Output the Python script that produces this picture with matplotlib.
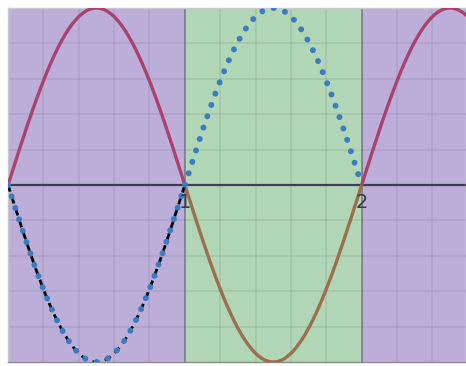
import numpy as np
import matplotlib.pyplot as plt

# function y = amp * sin(pi * x / half_period), shown over [x_min, x_max]
amp = 1.0
half_period = 1.0
x_min, x_max = 0.0, 2.59
y_min, y_max = -1.0, 1.0

# shaded bands: (start, end, colour)
bands = [(0.0, 1.0, '#bcaed9'), (1.0, 2.0, '#b1d6b5'), (2.0, 2.6, '#bcaed9')]
boundaries = [1.0, 2.0]
tick_labels = ['1', '2']

# ranges for each trace
solid_red_ranges = [(0.0, 1.0), (2.0, 2.6)]
solid_brown_ranges = [(1.0, 2.0)]
dotted_range = (0.0, 2.0)
dashed_range = (0.0, 1.0)


def f(x):
    return amp * np.sin(np.pi * x / half_period)


fig = plt.figure(figsize=(4.66, 3.66), dpi=100)
ax = fig.add_axes([8 / 466, 4 / 366, 1 - 8 / 466, 354 / 366])
ax.set_xlim(x_min, x_max)
ax.set_ylim(y_min, y_max)

for a, b, c in bands:
    ax.axvspan(a, b, color=c, zorder=0, lw=0)

# grid every 0.2
for gx in np.arange(0.2, 2.6, 0.2):
    ax.axvline(gx, color='#50406a', alpha=0.11, lw=1.3, zorder=1)
for gy in np.arange(-0.8, 1.0, 0.2):
    ax.axhline(gy, color='#50406a', alpha=0.11, lw=1.3, zorder=1)

for bx in boundaries:
    ax.axvline(bx, color='#3c4a40', alpha=0.4, lw=1.4, zorder=1.5)
ax.axhline(0, color='#2a2a3a', alpha=0.85, lw=1.6, zorder=2)

for a, b in solid_red_ranges:
    x = np.linspace(a, b, 200)
    ax.plot(x, f(x), color='#a8426e', lw=2.4, zorder=3, solid_capstyle='butt')
for a, b in solid_brown_ranges:
    x = np.linspace(a, b, 200)
    ax.plot(x, f(x), color='#9a6e4e', lw=2.4, zorder=3, solid_capstyle='butt')

x = np.linspace(*dashed_range, 300)
ax.plot(x, -f(x), color='black', lw=2.0, dashes=(2.5, 2), zorder=4)

x = np.linspace(*dotted_range, 600)
ax.plot(x, -f(x), color='#3a7cc0', lw=4.3, dashes=(0.01, 2.0),
        dash_capstyle='round', zorder=5)

for bx, lab in zip(boundaries, tick_labels):
    ax.text(bx, -0.1, lab, ha='center', va='center', fontsize=14,
            color='#3a3a4a', zorder=6)

ax.set_xticks([])
ax.set_yticks([])
for s in ax.spines.values():
    s.set_color('#c8c8c8')
    s.set_linewidth(1.0)
ax.spines['bottom'].set_color('#8a8a8a')

fig.savefig('out.png', dpi=100)
